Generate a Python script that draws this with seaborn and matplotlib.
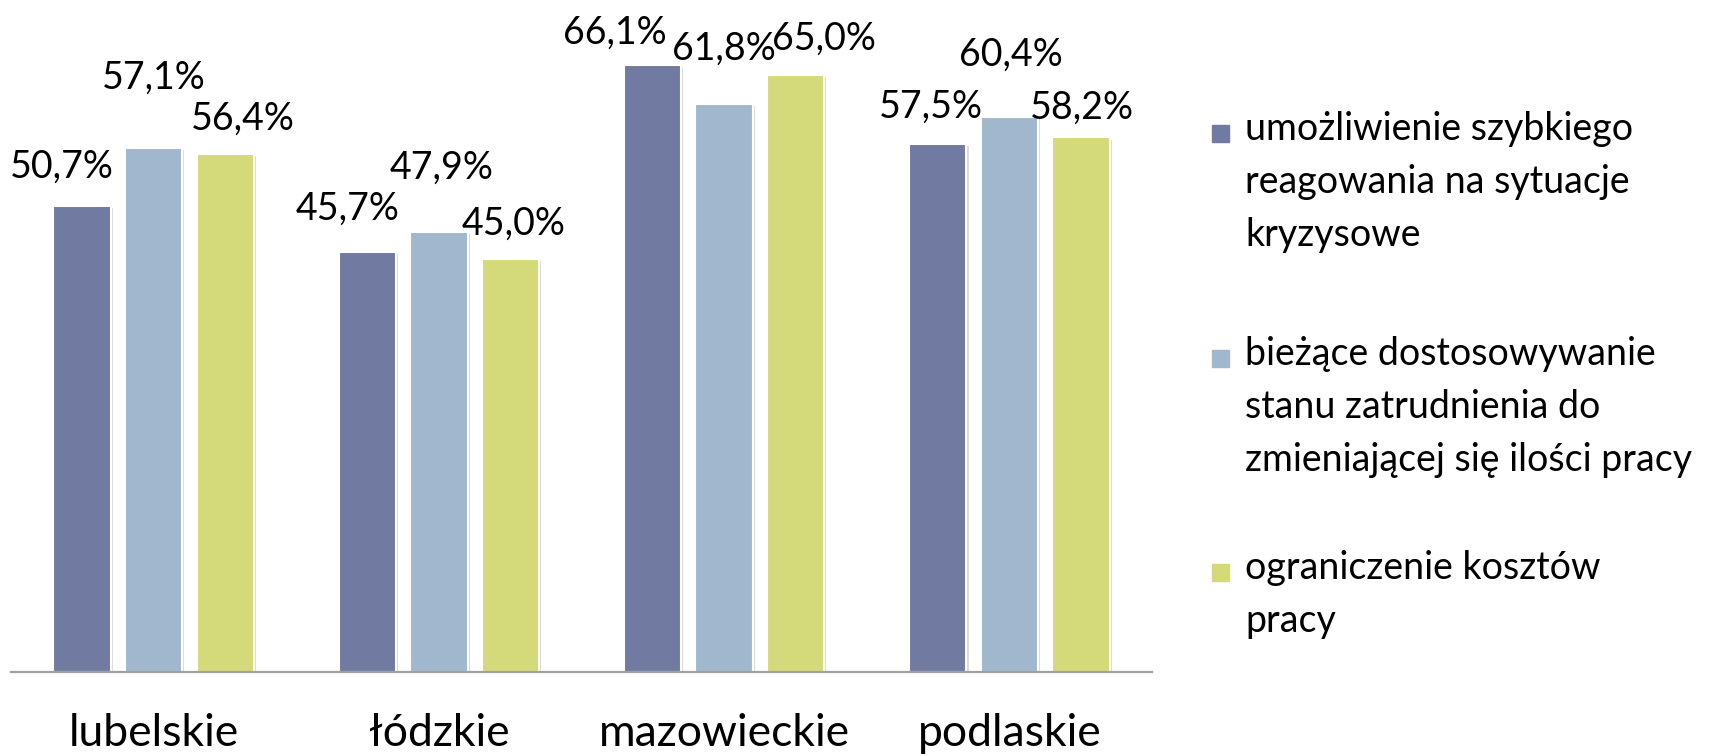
import matplotlib
matplotlib.use("Agg")
import matplotlib.pyplot as plt
import matplotlib.patheffects as pe
from matplotlib.patches import Rectangle
import pandas as pd
import seaborn as sns

# data
regions = ["lubelskie", "łódzkie", "mazowieckie", "podlaskie"]
series = [
    "umożliwienie szybkiego\nreagowania na sytuacje\nkryzysowe",
    "bieżące dostosowywanie\nstanu zatrudnienia do\nzmieniającej się ilości pracy",
    "ograniczenie kosztów\npracy",
]
values = [
    [50.7, 45.7, 66.1, 57.5],
    [57.1, 47.9, 61.8, 60.4],
    [56.4, 45.0, 65.0, 58.2],
]
colors = ["#717AA0", "#A1B7CD", "#D4DA7A"]

# label offsets from bar top (pixels, x / y), per region then per series
label_offsets = [
    [(-20, 40), (0, 70), (18, 35)],
    [(-20, 44), (3, 64), (3, 35)],
    [(-38, 32), (0, 56), (28, 36)],
    [(-7, 37), (1, 63), (1, 30)],
]

rows = []
for s, vals in zip(series, values):
    for r, v in zip(regions, vals):
        rows.append({"region": r, "series": s, "value": v})
df = pd.DataFrame(rows)

sns.set_style("white")
plt.rcParams["font.family"] = ["Lato", "DejaVu Sans"]
plt.rcParams["text.color"] = "black"
plt.rcParams["xtick.color"] = "black"

fig = plt.figure(figsize=(17.23, 7.55), dpi=100)
ax = fig.add_axes([0.0064, 0.1093, 0.6622, 0.8523])

sns.barplot(data=df, x="region", y="value", hue="series", palette=colors,
            saturation=1, width=0.753, gap=0.2, edgecolor="white", linewidth=1.5,
            legend=False, ax=ax)

for bar_group in ax.containers:
    for b in bar_group:
        b.set_path_effects([pe.SimplePatchShadow(offset=(1.5, -1.5), shadow_rgbFace="#999999", alpha=0.35),
                            pe.Normal()])

for si, bar_group in enumerate(ax.containers):
    for ri, b in enumerate(bar_group):
        dx, dy = label_offsets[ri][si]
        ax.annotate(f"{values[si][ri]:.1f}%".replace(".", ","),
                    (b.get_x() + b.get_width() / 2, b.get_height()),
                    xytext=(dx, dy), textcoords="offset pixels",
                    ha="center", va="center", fontsize=27, color="black",
                    annotation_clip=False)

ax.set_xlim(-0.5, 3.5)
ax.set_ylim(0, 70)
ax.set_xlabel("")
ax.set_ylabel("")
ax.set_yticks([])
ax.tick_params(axis="x", length=0, pad=29, labelsize=32, labelcolor="black")
for side in ["top", "left", "right"]:
    ax.spines[side].set_visible(False)
ax.spines["bottom"].set_color("#A0A0A0")
ax.spines["bottom"].set_linewidth(1.6)

# legend drawn by hand so the marker sits on the first text line
legend_rows = [133, 358, 572]
for s, c, y in zip(series, colors, legend_rows):
    fig.add_artist(Rectangle((1212 / 1723, 1 - (y + 9) / 755), 17 / 1723, 17 / 755,
                             transform=fig.transFigure, color=c))
    fig.text(1245 / 1723, 1 - (y - 22) / 755, s, fontsize=27, va="top", ha="left",
             linespacing=1.58, color="black", transform=fig.transFigure)

fig.savefig("out.png", dpi=100)
